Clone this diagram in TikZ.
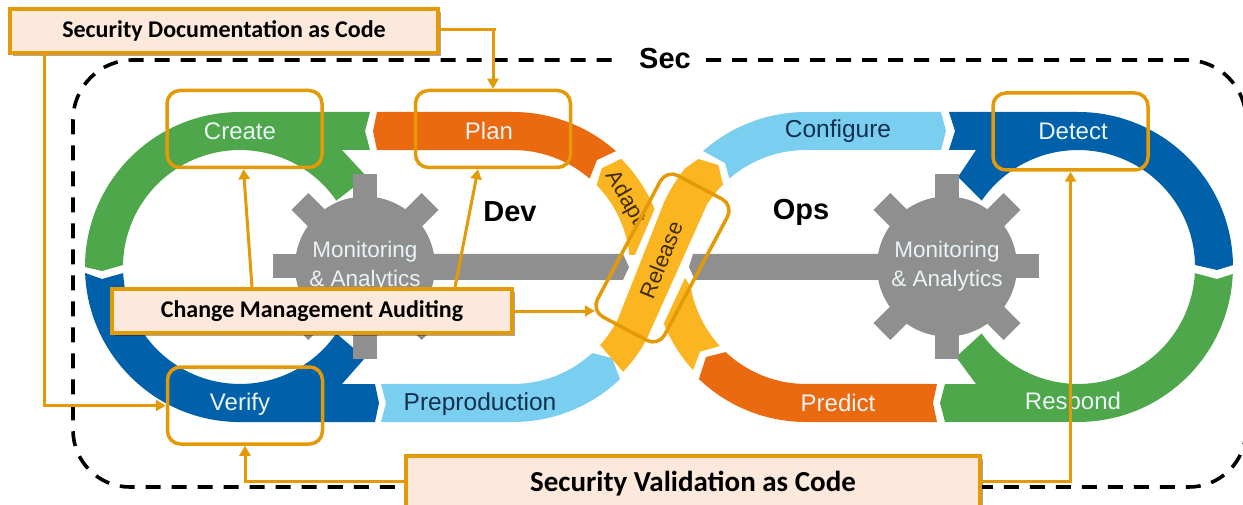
\documentclass[tikz,border=0pt]{standalone}
\usepackage{fontspec}
\setmainfont{Liberation Sans}
\newfontfamily\calfont{Carlito}
\usetikzlibrary{arrows.meta,shadows}
\definecolor{cgreen}{HTML}{4EA74B}
\definecolor{cblue}{HTML}{0060AA}
\definecolor{clight}{HTML}{7ACEEF}
\definecolor{corange}{HTML}{EB6A10}
\definecolor{cyellow}{HTML}{FBB520}
\definecolor{cgray}{HTML}{8F8F8F}
\definecolor{cstroke}{HTML}{E39A06}
\definecolor{cfill}{HTML}{FDE9DC}
\definecolor{cdark}{HTML}{10304F}
\definecolor{clabel}{HTML}{EAF3F5}
\tikzset{
  x=1pt,y=-1pt,
  band/.style={draw=none},
  spoke/.style={draw=cgray,line width=24pt},
  hub/.style={circle,fill=cgray,minimum size=140pt,inner sep=0pt,text=clabel,align=center,
    font=\fontsize{22.5}{29}\selectfont},
  bandtext/.style={font=\fontsize{24}{28}\selectfont,text=clabel,inner sep=0pt},
  darktext/.style={font=\fontsize{24.5}{28}\selectfont,text=cdark,inner sep=0pt},
  yellowtext/.style={font=\fontsize{22}{26}\selectfont,text=black!75!cyellow,inner sep=0pt},
  headtext/.style={font=\fontsize{29}{32}\selectfont\bfseries,text=black,inner sep=0pt},
  callout/.style={draw=cstroke,line width=3.5pt,rounded corners=13pt,inner sep=0pt},
  notebox/.style={draw=cstroke,line width=3.5pt,fill=cfill,inner sep=0pt,
    font=\calfont\bfseries\fontsize{24}{28}\selectfont,
    drop shadow={opacity=.35,shadow xshift=3pt,shadow yshift=-3pt,fill=black}},
  link/.style={draw=cstroke,line width=3pt,-{Triangle[length=10pt,width=11pt]}},
  frameline/.style={draw=black,line width=3.6pt,dash pattern=on 15pt off 11pt},
}
\begin{document}
\begin{tikzpicture}
\useasboundingbox (0,0) rectangle (1243,505);
% dashed frame
\draw[frameline] (706,60) -- (1186,60) arc[start angle=270,end angle=360,radius=60]
  -- (1246,430) arc[start angle=0,end angle=90,radius=57] -- (130,487)
  arc[start angle=90,end angle=180,radius=57] -- (73,120)
  arc[start angle=180,end angle=270,radius=60] -- (620,60);
% rings
\fill[cgreen] (85,267) arc[start angle=180,end angle=270,radius=155] -- (370,112) -- (365,131) -- (370,150) -- (342,150) -- (367,177) -- (336.3,200.6) arc[start angle=325.4,end angle=181,radius=117] -- (102,271) -- cycle;
\fill[cblue] (85.1,273) arc[start angle=177.8,end angle=90,radius=155] -- (375,422) -- (379,403) -- (375,384) -- (342,384) -- (365,358) -- (336.3,333.4) arc[start angle=34.6,end angle=177,radius=117] -- (102,279) -- cycle;
\fill[cblue] (949,112) -- (1078,112) arc[start angle=270,end angle=359.3,radius=155] -- (1217,270) -- (1195,265) arc[start angle=359,end angle=214.6,radius=117] -- (958,177) -- (976,150) -- (949,150) -- (955,131) -- cycle;
\fill[cgreen] (1232.8,274) arc[start angle=2.6,end angle=90,radius=155] -- (945,422) -- (940,403) -- (945,384) -- (976,384) -- (956,357) -- (981.7,333.4) arc[start angle=145.4,end angle=3,radius=117] -- (1217,279) -- cycle;
\fill[clight] (941,112) -- (946,131) -- (941,150) -- (806,150) arc[start angle=270,end angle=229.1,radius=117] -- (725,163) -- (703.1,151.1) arc[start angle=228.4,end angle=270,radius=155] -- cycle;
\fill[corange] (937,384) -- (933,403) -- (937,422) -- (806,422) arc[start angle=90,end angle=133.7,radius=155] -- (706,357) -- (725.7,352.1) arc[start angle=133.3,end angle=90,radius=117] -- cycle;
\fill[corange] (377,112) -- (513,112) arc[start angle=270,end angle=311.6,radius=155] -- (597,160) -- (589.6,178.6) arc[start angle=310.9,end angle=270,radius=117] -- (377,150) -- (373,131) -- cycle;
\fill[clight] (381,384) -- (386,403) -- (381,422) -- (513,422) arc[start angle=90,end angle=46.3,radius=155] -- (612,358) -- (592.2,353.1) arc[start angle=47.4,end angle=90,radius=117] -- cycle;
% bar
\fill[cgray] (365,254) -- (623,254) -- (629,267) -- (623,280) -- (365,280) -- cycle;
\fill[cgray] (947,254) -- (693,254) -- (689,267) -- (695,280) -- (947,280) -- cycle;
% gears
\foreach \a in {0,45,...,315} {
  \draw[spoke] (365,266.5) -- ++(\a:92);
  \draw[spoke] (947,266.5) -- ++(\a:92);
}
\node[hub] (gearL) at (365,266.5) {Monitoring\\\& Analytics};
\node[hub] (gearR) at (947,266.5) {Monitoring\\\& Analytics};
% yellow bands
\fill[cyellow] (621.1,158.8) arc[start angle=315,end angle=337.8,radius=153] -- (635,255) -- (629.4,254.8) arc[start angle=354,end angle=315.6,radius=117] -- (601.7,168.3) -- cycle;
\fill[cyellow] (685,278) -- (690.8,287.3) arc[start angle=170,end angle=137.5,radius=117] -- (700,351.7) -- (693,370.1) arc[start angle=137.6,end angle=158.3,radius=153] -- cycle;
\fill[cyellow] (600.1,345.1) arc[start angle=41.9,end angle=25.6,radius=117] -- (664.2,202) arc[start angle=204.6,end angle=219.2,radius=156] -- (698.3,159) -- (718.3,165) -- (723,184.5) arc[start angle=224.8,end angle=212,radius=117] -- (646.4,339.8) arc[start angle=28.6,end angle=43.6,radius=152] -- cycle;
% band labels
\node[bandtext] (create) at (240,131) {Create};
\node[bandtext] (plan) at (489,131) {Plan};
\node[bandtext] (verify) at (240,404) {Verify};
\node[darktext] (prep) at (480,404) {Preproduction};
\node[darktext] (conf) at (838,131) {Configure};
\node[bandtext] (detect) at (1073,131) {Detect};
\node[bandtext] (predict) at (838,403) {Predict};
\node[bandtext] (respond) at (1073,403) {Respond};
\node[yellowtext,rotate=-60] (adapt) at (625,198) {Adapt};
\node[yellowtext,rotate=68] (release) at (661,260) {Release};
\node[headtext] (dev) at (510,212) {Dev};
\node[headtext] (ops) at (801,212) {Ops};
\node[headtext] (sec) at (665,59) {Sec};
% callouts
\node[callout,minimum width=155pt,minimum height=77pt] (boxCreate) at (244.5,129) {};
\node[callout,minimum width=155pt,minimum height=77pt] (boxPlan) at (493,129) {};
\node[callout,minimum width=155pt,minimum height=77pt] (boxVerify) at (245,405.5) {};
\node[callout,minimum width=155pt,minimum height=77pt] (boxDetect) at (1070.5,131.5) {};
\node[callout,minimum width=160pt,minimum height=76pt,rotate=62] (boxRelease) at (662.5,258) {};
% note boxes
\node[notebox,minimum width=428pt,minimum height=44pt] (noteDoc) at (224,31) {Security Documentation as Code};
\node[notebox,minimum width=400pt,minimum height=44pt] (noteChange) at (312,311) {Change Management Auditing};
\node[notebox,minimum width=574pt,minimum height=56pt,font=\calfont\bfseries\fontsize{29}{32}\selectfont] (noteVal) at (693,484) {Security Validation as Code};
% connectors
\draw[link] ([yshift=1pt]noteDoc.east) -- ++(56,0) -| (boxPlan.north);
\draw[link] ([xshift=-180pt]noteDoc.south) |- (boxVerify.west);
\draw[link] ([xshift=-60pt]noteChange.north) -- ([xshift=-1pt]boxCreate.south);
\draw[link] ([xshift=143pt]noteChange.north) -- ([xshift=-15pt]boxPlan.south);
\draw[link] (noteChange.east) -- ++(81,0);
\draw[link] ([yshift=3pt]noteVal.west) -| (boxVerify.south);
\draw[link] ([yshift=3pt]noteVal.east) -| (boxDetect.south);
\end{tikzpicture}
\end{document}
